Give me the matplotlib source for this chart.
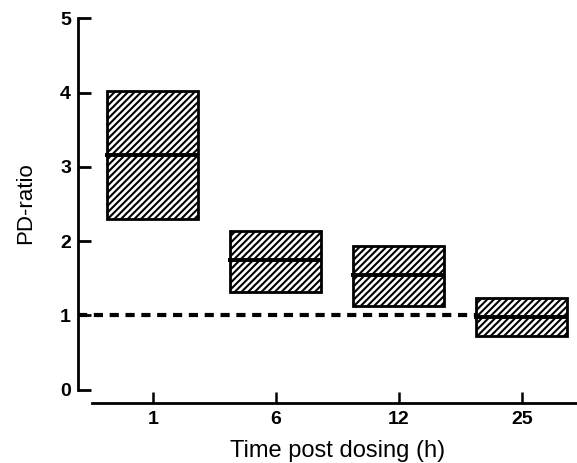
import matplotlib.pyplot as plt

# data
times = ["1", "6", "12", "25"]
lower = [2.3, 1.31, 1.12, 0.72]
upper = [4.02, 2.14, 1.93, 1.23]
median = [3.16, 1.75, 1.54, 0.98]
ref_level = 1.0

plt.rcParams['font.family'] = ['Liberation Sans', 'DejaVu Sans']
plt.rcParams['hatch.linewidth'] = 1.5

fig = plt.figure(figsize=(5.77, 4.63), dpi=100)
ax = fig.add_axes([78 / 577, 60 / 463, 499 / 577, (403 - 18.3) / 463])

x = list(range(len(times)))
w = 0.74
heights = [u - l for u, l in zip(upper, lower)]
ax.bar(x, heights, bottom=lower, width=w, facecolor='white', edgecolor='black',
       linewidth=2.0, hatch='/////', zorder=3)
for xi, m in zip(x, median):
    ax.plot([xi - w / 2 - 0.02, xi + w / 2], [m, m], color='black', lw=2.8,
            solid_capstyle='butt', zorder=4)

# reference line up to the last box
ax.plot([-0.61, x[-1] - w / 2], [ref_level, ref_level], color='black', lw=3,
        dashes=(2.2, 1.6), zorder=2)

ax.set_xlim(-0.61, 3.45)
ax.set_ylim(-0.18, 5.0)
ax.set_yticks([0, 1, 2, 3, 4, 5])
ax.set_xticks(x)
ax.set_xticklabels(times)

for s in ['top', 'right']:
    ax.spines[s].set_visible(False)
ax.spines['left'].set_bounds(0, 5)
ax.spines['bottom'].set_bounds(-0.5, 3.45)
ax.spines['left'].set_linewidth(2)
ax.spines['bottom'].set_linewidth(2)

ax.tick_params(axis='y', direction='in', length=9, width=2, pad=5, labelsize=14)
ax.tick_params(axis='x', direction='in', length=8, width=1.8, pad=6, labelsize=14)
for lab in ax.get_xticklabels() + ax.get_yticklabels():
    lab.set_fontweight('bold')

ax.set_ylabel("PD-ratio", fontsize=16)
ax.set_xlabel("Time post dosing (h)", fontsize=17)
ax.yaxis.set_label_coords(-0.083, 0.52)
ax.xaxis.set_label_coords(0.521, -0.095)

fig.savefig("out.png", dpi=100)
